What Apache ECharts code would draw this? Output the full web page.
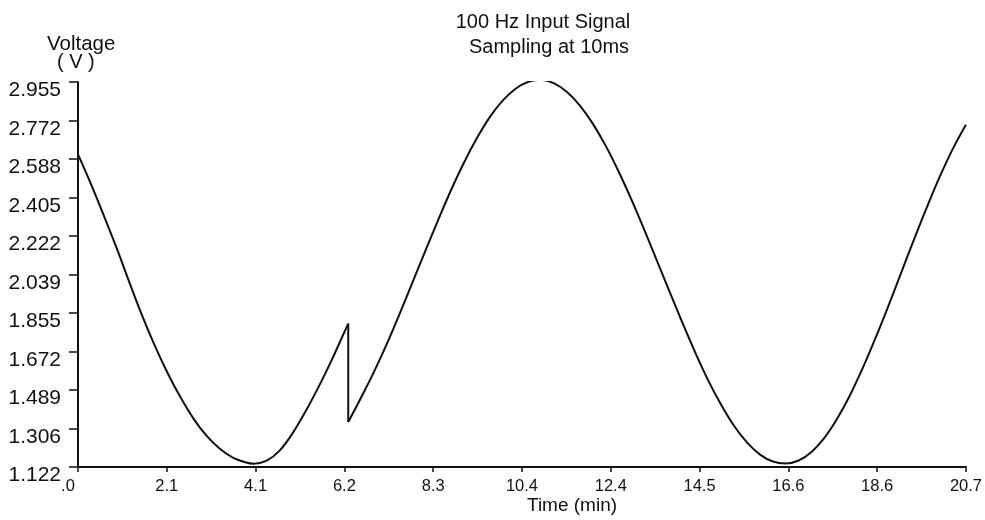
<!DOCTYPE html>
<html>
<head>
<meta charset="utf-8">
<script src="https://cdn.jsdelivr.net/npm/echarts@6/dist/echarts.min.js"></script>
<style>
html,body{margin:0;padding:0;background:#fff;}
#chart{width:985px;height:520px;}
</style>
</head>
<body>
<div id="chart"></div>
<script>
const titleLine1 = '100 Hz Input Signal';
const titleLine2 = 'Sampling at 10ms';
const yAxisTitle = 'Voltage';
const yAxisUnit = '( V )';
const xAxisTitle = 'Time (min)';
const xTickLabels = ['.0','2.1','4.1','6.2','8.3','10.4','12.4','14.5','16.6','18.6','20.7'];
const yTickLabels = ['1.122','1.306','1.489','1.672','1.855','2.039','2.222','2.405','2.588','2.772','2.955'];
const xMin = 0, xMax = 20.7, xStep = 2.07;
const yMin = 1.122, yMax = 2.955, yStep = 0.1833;

const timeMin = [0.0,0.3,0.6,0.9,1.2,1.5,1.8,2.1,2.4,2.7,3.0,3.3,3.6,3.9,4.1,4.4,4.7,5.0,5.3,5.6,5.9,6.2,6.3,
  6.3,6.6,6.9,7.2,7.5,7.8,8.1,8.4,8.7,9.0,9.3,9.6,9.9,10.2,10.5,10.8,11.1,11.4,11.7,12.0,12.3,12.6,12.9,13.2,13.5,
  13.8,14.1,14.4,14.7,15.0,15.3,15.6,15.9,16.2,16.5,16.8,17.1,17.4,17.7,18.0,18.3,18.6,18.9,19.2,19.5,19.8,20.1,20.4,20.7];
const voltage = [2.610,2.470,2.320,2.165,2.000,1.840,1.695,1.565,1.450,1.350,1.270,1.210,1.168,1.145,1.138,1.152,1.200,1.282,1.385,1.500,1.625,1.760,1.805,
  1.336,1.453,1.575,1.708,1.852,2.002,2.152,2.300,2.442,2.572,2.688,2.788,2.866,2.923,2.956,2.965,2.948,2.907,2.843,2.757,2.652,2.530,2.396,2.252,2.102,
  1.952,1.804,1.662,1.531,1.416,1.316,1.238,1.181,1.148,1.139,1.153,1.194,1.261,1.353,1.465,1.596,1.740,1.893,2.052,2.211,2.364,2.509,2.639,2.751];

const jumpIndex = 23; // first sample after the discontinuity
const allPoints = timeMin.map((t, i) => [t, voltage[i]]);
const beforeJump = allPoints.slice(0, jumpIndex);
const afterJump = allPoints.slice(jumpIndex);
const jumpEdge = allPoints.slice(jumpIndex - 1, jumpIndex + 1);
const FONT = "'Liberation Sans', Arial, sans-serif";
const lineStyle = {color: '#111', width: 2};

const chart = echarts.init(document.getElementById('chart'), null, {renderer: 'canvas'});
chart.setOption({
  backgroundColor: '#ffffff',
  animation: false,
  title: [
    {text: titleLine1, left: 538, top: 7, textAlign: 'center',
     textStyle: {fontFamily: FONT, fontSize: 20, fontWeight: 'normal', color: '#111'}},
    {text: titleLine2, left: 544, top: 32, textAlign: 'center',
     textStyle: {fontFamily: FONT, fontSize: 20, fontWeight: 'normal', color: '#111'}}
  ],
  graphic: [
    {type: 'text', left: 47, top: 34, style: {text: yAxisTitle, font: "20.5px 'Liberation Sans', Arial, sans-serif", fill: '#111'}},
    {type: 'text', left: 57, top: 52, style: {text: yAxisUnit, font: "20px 'Liberation Sans', Arial, sans-serif", fill: '#111'}},
    {type: 'text', left: 527, top: 496, style: {text: xAxisTitle, font: "19px 'Liberation Sans', Arial, sans-serif", fill: '#111'}}
  ],
  grid: {left: 78, right: 19, top: 82, bottom: 53, containLabel: false},
  xAxis: {
    type: 'value', min: xMin, max: xMax, interval: xStep,
    axisLine: {show: true, lineStyle: {color: '#111', width: 2}},
    axisTick: {show: true, length: 5, lineStyle: {color: '#111', width: 1.5}},
    splitLine: {show: false},
    axisLabel: {
      margin: 11, color: '#111', fontFamily: FONT, fontSize: 16.5,
      formatter: function (v) {
        const i = Math.round((v - xMin) / xStep);
        if (i === 0) return '{f|' + xTickLabels[0] + '}';
        return xTickLabels[i] !== undefined ? xTickLabels[i] : '';
      },
      rich: {f: {padding: [0, 20, 0, 0], fontFamily: FONT, fontSize: 16.5, color: '#111'}}
    }
  },
  yAxis: {
    type: 'value', min: yMin, max: yMax, interval: yStep,
    axisLine: {show: true, lineStyle: {color: '#111', width: 2}},
    axisTick: {show: true, length: 9, lineStyle: {color: '#111', width: 1.5}},
    splitLine: {show: false},
    axisLabel: {
      margin: 17, color: '#111', fontFamily: FONT, fontSize: 21, lineHeight: 17, verticalAlign: 'top',
      formatter: function (v) {
        const i = Math.round((v - yMin) / yStep);
        return yTickLabels[i] !== undefined ? yTickLabels[i] : '';
      }
    }
  },
  series: [
    {type: 'line', data: beforeJump, showSymbol: false, smooth: 0.35, lineStyle: lineStyle},
    {type: 'line', data: jumpEdge, showSymbol: false, smooth: false, lineStyle: lineStyle},
    {type: 'line', data: afterJump, showSymbol: false, smooth: 0.35, lineStyle: lineStyle}
  ]
});
</script>
</body>
</html>
